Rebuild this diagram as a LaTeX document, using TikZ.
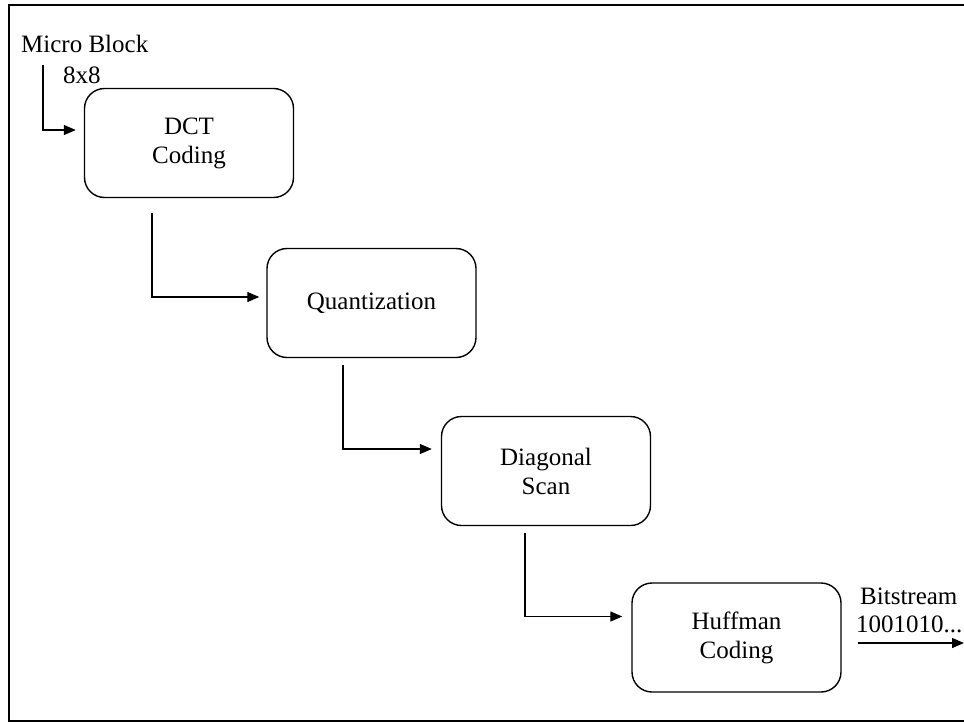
\documentclass[tikz,border=0pt]{standalone}
\usepackage{fontspec}
\setmainfont{Liberation Serif}
\usetikzlibrary{arrows.meta,calc}
\begin{document}
\begin{tikzpicture}[x=1pt,y=-1pt,
  stagebox/.style={draw,line width=1.4pt,rounded corners=20pt,minimum width=209pt,minimum height=109pt,align=center,font=\fontsize{25}{29}\selectfont,inner sep=0pt},
  flow/.style={line width=1.3pt,-{Triangle[length=12pt,width=10pt]}},
  lbl/.style={font=\fontsize{25}{29}\selectfont,inner sep=0pt,align=left}]
\useasboundingbox (0,0) rectangle (964,723);
\draw[line width=1.5pt] (964,5) -- (9,5) -- (9,721) -- (964,721);

\node[stagebox] (dct) at (189,143) {DCT\\Coding};
\node[stagebox] (quant) at (371.5,303) {Quantization};
\node[stagebox] (diag) at (546,471) {Diagonal\\Scan};
\node[stagebox] (huff) at (736.5,637.5) {Huffman\\Coding};

\node[lbl,anchor=base west] (micro) at (21,52) {Micro Block};
\node[lbl,anchor=base west] (size) at (63,83) {8x8};
\node[lbl,anchor=base west] (bits) at (860,604) {Bitstream};
\node[lbl,anchor=base west] (bitval) at (856,632) {1001010...};

\coordinate (in) at (43,65);
\coordinate (c1) at (152,213);
\coordinate (c2) at (343,365);
\coordinate (c3) at (525,533);
\coordinate (outs) at (858,643);
\coordinate (oute) at (964,643);

\draw[flow,shorten >=8pt] (in) |- ([yshift=13pt]dct.west);
\draw[flow,shorten >=7pt] (c1) |- ([yshift=6pt]quant.west);
\draw[flow,shorten >=9pt] (c2) |- ([yshift=22pt]diag.west);
\draw[flow,shorten >=9pt] (c3) |- ([yshift=21pt]huff.west);
\draw[flow] (outs) -- (oute);
\end{tikzpicture}
\end{document}
